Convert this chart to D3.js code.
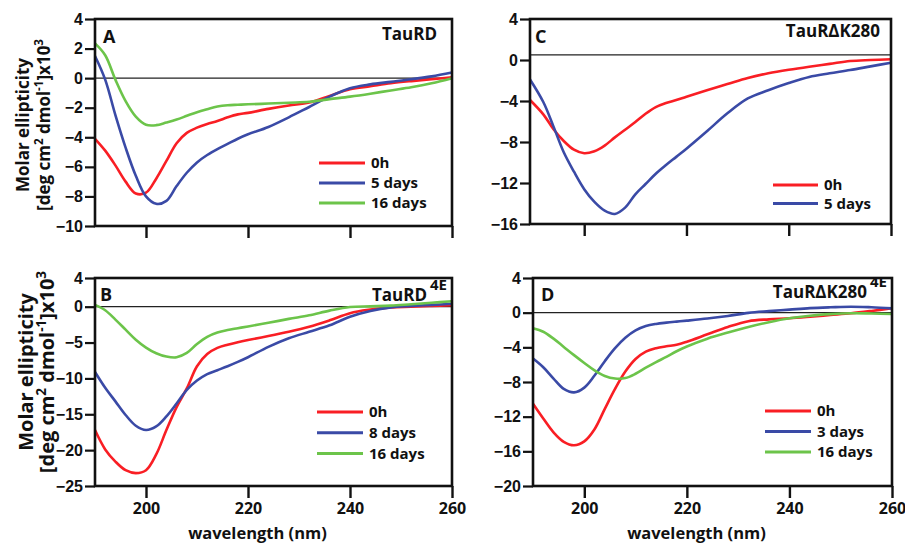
<!doctype html>
<html>
<head>
<meta charset="utf-8">
<script src="https://d3js.org/d3.v7.min.js"></script>
<style>
  body { margin: 0; background: #fff; }
  svg { display: block; }
  text { font-family: "Open Sans", sans-serif; font-weight: bold; fill: #111; }
  .ytick text { font-family: "Liberation Sans", Arial, sans-serif; }
</style>
</head>
<body>
<svg id="chart" width="905" height="544"></svg>
<script>
// wavelength grid (nm) used for every curve; panel C starts a bit before 190
var wl  = [190,192,194,196,198,200,202,204,206,208,210,212,214,216,218,220,224,228,232,236,240,244,248,252,256,260];
var wlC = [189.4,192,194,196,198,200,202,204,206,208,210,212,214,216,218,220,224,228,232,236,240,244,248,252,256,260];

// A: TauRD
var a0h    = [-4.1,-4.9,-5.9,-7.0,-7.8,-7.75,-6.8,-5.6,-4.4,-3.7,-3.35,-3.1,-2.9,-2.65,-2.45,-2.35,-2.08,-1.85,-1.65,-1.2,-0.75,-0.55,-0.35,-0.2,-0.07,0.05];
var a5d    = [1.5,-0.1,-2.5,-4.7,-6.6,-8.0,-8.5,-8.3,-7.3,-6.4,-5.7,-5.2,-4.8,-4.45,-4.1,-3.8,-3.3,-2.65,-1.95,-1.25,-0.68,-0.42,-0.25,-0.08,0.12,0.38];
var a16d   = [2.35,1.55,-0.1,-1.55,-2.6,-3.15,-3.18,-3.0,-2.8,-2.55,-2.3,-2.1,-1.92,-1.83,-1.8,-1.77,-1.72,-1.66,-1.6,-1.42,-1.25,-1.05,-0.83,-0.62,-0.35,0];

// C: TauRΔK280
var c0h    = [-3.9,-5.3,-6.75,-7.9,-8.75,-9.1,-8.9,-8.35,-7.55,-6.8,-6.05,-5.25,-4.6,-4.2,-3.9,-3.58,-2.95,-2.35,-1.75,-1.3,-0.95,-0.65,-0.38,-0.1,0,0.07];
var c5d    = [-1.9,-4.1,-6.5,-9.0,-10.9,-12.6,-13.85,-14.7,-15.02,-14.4,-13.1,-12.1,-11.1,-10.25,-9.45,-8.65,-6.95,-5.2,-3.75,-2.95,-2.25,-1.65,-1.3,-0.98,-0.62,-0.26];

// B: TauRD 4E
var b0h    = [-17.2,-19.9,-21.6,-22.8,-23.2,-22.8,-20.6,-17.2,-14.0,-11.4,-8.3,-6.6,-5.75,-5.3,-4.95,-4.65,-4.1,-3.5,-2.8,-1.9,-0.9,-0.4,-0.1,0,0.1,0.2];
var b8d    = [-9.1,-11.3,-13.2,-15.1,-16.6,-17.2,-16.7,-15.3,-13.5,-11.6,-10.3,-9.4,-8.85,-8.3,-7.7,-7.05,-5.6,-4.4,-3.5,-2.6,-1.4,-0.6,-0.1,0.1,0.25,0.4];
var b16d   = [0.25,-0.5,-1.8,-3.2,-4.6,-5.7,-6.5,-6.95,-7.05,-6.45,-5.2,-4.2,-3.6,-3.25,-3.0,-2.75,-2.25,-1.7,-1.2,-0.55,-0.05,0.05,0.15,0.35,0.55,0.75];

// D: TauRΔK280 4E
var d0h    = [-10.5,-12.2,-13.8,-14.9,-15.3,-14.85,-13.45,-11.1,-8.8,-6.8,-5.35,-4.5,-4.1,-3.88,-3.7,-3.35,-2.5,-1.65,-0.98,-0.77,-0.65,-0.47,-0.27,-0.07,0.2,0.5];
var d3d    = [-5.3,-6.3,-7.6,-8.8,-9.2,-8.65,-7.25,-5.6,-4.1,-2.9,-2.05,-1.55,-1.3,-1.15,-1.03,-0.92,-0.68,-0.38,-0.02,0.18,0.35,0.52,0.62,0.69,0.62,0.5];
var d16d   = [-1.8,-2.2,-3.0,-3.95,-4.9,-5.8,-6.65,-7.3,-7.6,-7.55,-7.05,-6.35,-5.7,-5.1,-4.45,-3.9,-3.0,-2.3,-1.65,-1.1,-0.65,-0.35,-0.17,-0.07,-0.1,-0.15];

var xTicks = [200, 220, 240, 260];
var yTicksA = [-10,-8,-6,-4,-2,0,2,4];
var yTicksB = [-25,-20,-15,-10,-5,0,4];
var yTicksC = [-16,-12,-8,-4,0,4];
var yTicksD = [-20,-16,-12,-8,-4,0,4];

var colors = {red: "#f91e24", blue: "#3a4aa6", green: "#6cc44a"};

var panels = [
  {letter: "A", title: "TauRD", sup: "", x0: 95, x1: 452, y0: 19, y1: 226, xMin: 190, yDom: [-10, 4], yTicks: yTicksA, base: 0,
   xLabels: false, lx: [319, 365], ly: 163, lgap: 20, lp: [103, 43], tx: 437, ty: 40, wl: wl,
   series: [{name: "0h", v: a0h, c: colors.red}, {name: "5 days", v: a5d, c: colors.blue}, {name: "16 days", v: a16d, c: colors.green}]},
  {letter: "C", title: "TauR\u0394K280", sup: "", x0: 530, x1: 891, y0: 19, y1: 224, xMin: 189.4, yDom: [-16, 4], yTicks: yTicksC, base: 0.5,
   xLabels: false, lx: [773, 818], ly: 185, lgap: 18.5, lp: [535, 43], tx: 880, ty: 37, wl: wlC,
   series: [{name: "0h", v: c0h, c: colors.red}, {name: "5 days", v: c5d, c: colors.blue}]},
  {letter: "B", title: "TauRD", sup: "4E", x0: 95, x1: 452, y0: 278, y1: 486, xMin: 190, yDom: [-25, 4], yTicks: yTicksB, base: 0,
   xLabels: true, lx: [317, 363], ly: 412, lgap: 20.8, lp: [100, 301], tx: 447, ty: 301, wl: wl,
   series: [{name: "0h", v: b0h, c: colors.red}, {name: "8 days", v: b8d, c: colors.blue}, {name: "16 days", v: b16d, c: colors.green}]},
  {letter: "D", title: "TauR\u0394K280", sup: "4E", x0: 533, x1: 892, y0: 278, y1: 486, xMin: 190, yDom: [-20, 4], yTicks: yTicksD, base: 0,
   xLabels: true, lx: [765, 811], ly: 411, lgap: 20.5, lp: [541, 301], tx: 887, ty: 298, wl: wl,
   series: [{name: "0h", v: d0h, c: colors.red}, {name: "3 days", v: d3d, c: colors.blue}, {name: "16 days", v: d16d, c: colors.green}]}
];

var svg = d3.select("#chart");

panels.forEach(function(p) {
  var x = d3.scaleLinear().domain([p.xMin, 260]).range([p.x0, p.x1]);
  var y = d3.scaleLinear().domain(p.yDom).range([p.y1, p.y0]);
  var g = svg.append("g");

  // reference line
  g.append("line")
    .attr("x1", p.x0).attr("x2", p.x1)
    .attr("y1", y(p.base)).attr("y2", y(p.base))
    .attr("stroke", "#222").attr("stroke-width", 1.3);

  var line = d3.line()
    .x(function(d) { return x(d[0]); })
    .y(function(d) { return y(d[1]); })
    .curve(d3.curveCatmullRom.alpha(0.5));

  p.series.forEach(function(s) {
    var pts = p.wl.map(function(w, i) { return [w, s.v[i]]; });
    g.append("path").datum(pts)
      .attr("d", line)
      .attr("fill", "none")
      .attr("stroke", s.c)
      .attr("stroke-width", 2.6)
      .attr("stroke-linejoin", "round");
  });

  // frame
  g.append("rect")
    .attr("x", p.x0).attr("y", p.y0)
    .attr("width", p.x1 - p.x0).attr("height", p.y1 - p.y0)
    .attr("fill", "none").attr("stroke", "#111").attr("stroke-width", 2.6);

  // axes
  var yAxis = g.append("g").attr("class", "ytick")
    .attr("transform", "translate(" + p.x0 + ",0)")
    .call(d3.axisLeft(y).tickValues(p.yTicks).tickSize(10).tickPadding(2).tickFormat(d3.format("d")));
  yAxis.select(".domain").remove();
  yAxis.selectAll("line").attr("stroke", "#111").attr("stroke-width", 2.2);
  yAxis.selectAll("text").attr("font-size", 16).attr("fill", "#111");

  var xAxis = g.append("g")
    .attr("transform", "translate(0," + p.y1 + ")")
    .call(d3.axisBottom(x).tickValues(xTicks).tickSize(12).tickPadding(5)
      .tickFormat(p.xLabels ? d3.format("d") : ""));
  xAxis.select(".domain").remove();
  xAxis.selectAll("line").attr("stroke", "#111").attr("stroke-width", 2.4);
  xAxis.selectAll("text").attr("font-size", 16).attr("fill", "#111")
    .style("font-family", "'Open Sans', sans-serif");

  // panel letter and title
  g.append("text").attr("x", p.lp[0]).attr("y", p.lp[1])
    .attr("font-size", 18).text(p.letter);

  var t = g.append("text").attr("x", p.tx).attr("y", p.ty)
    .attr("text-anchor", "end").attr("font-size", 17);
  t.append("tspan").text(p.title);
  if (p.sup) {
    t.append("tspan").attr("dx", 3).attr("dy", -11).attr("font-size", 15).text(p.sup);
  }

  // legend
  p.series.forEach(function(s, i) {
    var ly = p.ly + i * p.lgap;
    g.append("line")
      .attr("x1", p.lx[0]).attr("x2", p.lx[1])
      .attr("y1", ly).attr("y2", ly)
      .attr("stroke", s.c).attr("stroke-width", 3);
    g.append("text")
      .attr("x", p.lx[1] + 6).attr("y", ly)
      .attr("dy", "0.36em").attr("font-size", 15)
      .text(s.name);
  });

  if (p.xLabels) {
    g.append("text")
      .attr("x", (p.x0 + p.x1) / 2 - 16).attr("y", 539)
      .attr("text-anchor", "middle").attr("font-size", 16.5)
      .text("wavelength (nm)");
  }
});

// y axis titles (left column only)
function yTitle(cy, b1, b2, fs) {
  var g = svg.append("g");
  g.append("text")
    .attr("transform", "translate(" + b1 + "," + cy + ") rotate(-90)")
    .attr("text-anchor", "middle").attr("font-size", fs)
    .text("Molar ellipticity");
  var t = g.append("text")
    .attr("transform", "translate(" + b2 + "," + cy + ") rotate(-90)")
    .attr("text-anchor", "middle").attr("font-size", fs);
  var sup = fs * 0.68;
  t.append("tspan").text("[deg cm");
  t.append("tspan").attr("dy", -fs * 0.4).attr("font-size", sup).text("2");
  t.append("tspan").attr("dy", fs * 0.4).text(" dmol");
  t.append("tspan").attr("dy", -fs * 0.4).attr("font-size", sup).text("-1");
  t.append("tspan").attr("dy", fs * 0.4).text("]x10");
  t.append("tspan").attr("dy", -fs * 0.4).attr("font-size", sup).text("3");
}
yTitle(125, 29, 50, 17);
yTitle(372, 33, 54, 20);
</script>
</body>
</html>
